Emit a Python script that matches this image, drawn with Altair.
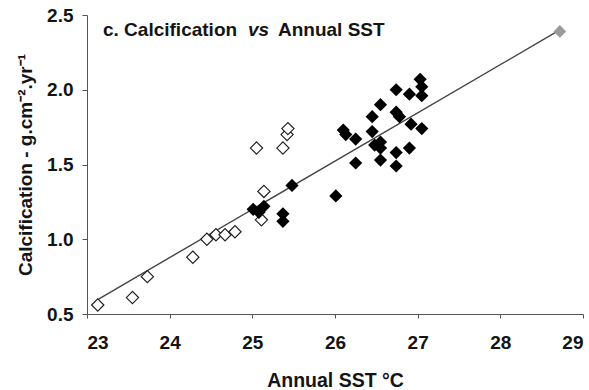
import altair as alt
import pandas as pd

# Annual SST (°C) and calcification (g.cm-2.yr-1)
open_sst = [23.13, 23.55, 23.73, 24.28, 24.45, 24.56, 24.67, 24.79, 25.11, 25.14,
            25.05, 25.37, 25.42, 25.43]
open_calc = [0.56, 0.61, 0.75, 0.88, 1.00, 1.03, 1.03, 1.05, 1.13, 1.32,
             1.61, 1.61, 1.70, 1.74]

filled_sst = [25.01, 25.08, 25.14, 25.37, 25.37, 25.48, 26.01, 26.10, 26.13, 26.25,
              26.25, 26.45, 26.45, 26.48, 26.55, 26.55, 26.55, 26.55, 26.74, 26.74,
              26.78, 26.74, 26.74, 26.90, 26.92, 26.90, 27.03, 27.05, 27.05, 27.05]
filled_calc = [1.20, 1.18, 1.22, 1.17, 1.12, 1.36, 1.29, 1.73, 1.70, 1.67,
               1.51, 1.82, 1.72, 1.63, 1.90, 1.65, 1.61, 1.53, 2.00, 1.85,
               1.82, 1.58, 1.49, 1.97, 1.77, 1.61, 2.07, 2.02, 1.96, 1.74]

grey_sst = [28.72]
grey_calc = [2.39]

# regression line end points
fit_sst = [23.14, 28.72]
fit_calc = [0.60, 2.40]

x_ticks = [23, 24, 25, 26, 27, 28, 29]
y_ticks = [0.5, 1.0, 1.5, 2.0, 2.5]

FONT = "Liberation Sans"
INK = "#141414"

x_scale = alt.Scale(domain=[23, 29], nice=False, zero=False)
y_scale = alt.Scale(domain=[0.5, 2.5], nice=False, zero=False)

x_axis = alt.Axis(values=x_ticks, format="d", grid=False, tickSize=4,
                  labelPadding=15, labelFontSize=19, labelFont=FONT,
                  labelFontWeight="bold", labelColor=INK,
                  domainColor="#555", tickColor="#555",
                  title="Annual SST °C", titleFont=FONT, titleFontSize=19.5,
                  titleFontWeight="bold", titleColor=INK,
                  titleY=72, titleBaseline="alphabetic")
y_axis = alt.Axis(values=y_ticks, format=".1f", grid=False, tickSize=5,
                  labelPadding=9, labelFontSize=19, labelFont=FONT,
                  labelFontWeight="bold", labelColor=INK,
                  domainColor="#555", tickColor="#555",
                  title="Calcification - g.cm⁻².yr⁻¹", titleFont=FONT,
                  titleFontSize=19, titleFontWeight="bold", titleColor=INK,
                  titleX=-62, titleBaseline="middle")

fit_df = pd.DataFrame({"sst": fit_sst, "calc": fit_calc})
open_df = pd.DataFrame({"sst": open_sst, "calc": open_calc})
filled_df = pd.DataFrame({"sst": filled_sst, "calc": filled_calc})
grey_df = pd.DataFrame({"sst": grey_sst, "calc": grey_calc})

fit = alt.Chart(fit_df).mark_line(color="#444", strokeWidth=1.4).encode(
    x=alt.X("sst:Q", scale=x_scale, axis=x_axis),
    y=alt.Y("calc:Q", scale=y_scale, axis=y_axis),
)

open_pts = alt.Chart(open_df).mark_point(
    shape="diamond", size=150, filled=False, fill="white", fillOpacity=1,
    stroke="#222", strokeWidth=1.2, opacity=1
).encode(x="sst:Q", y="calc:Q")

filled_pts = alt.Chart(filled_df).mark_point(
    shape="diamond", size=175, filled=True, color="black", opacity=1
).encode(x="sst:Q", y="calc:Q")

grey_pts = alt.Chart(grey_df).mark_point(
    shape="diamond", size=160, filled=True, color="#9a9a9a", opacity=1
).encode(x="sst:Q", y="calc:Q")

# panel heading, with the italic "vs"
head_df = pd.DataFrame({
    "txt": ["c. Calcification", "vs", "Annual SST"],
    "px": [16, 161, 191],
    "style": ["normal", "italic", "normal"],
})
heading = []
for i, row in head_df.iterrows():
    heading.append(
        alt.Chart(head_df.iloc[[i]]).mark_text(
            font=FONT, fontSize=19, fontWeight="bold", fontStyle=row["style"],
            align="left", baseline="alphabetic", color=INK
        ).encode(x=alt.value(int(row["px"])), y=alt.value(21), text="txt:N")
    )

chart = alt.layer(fit, open_pts, filled_pts, grey_pts, *heading).properties(
    width=496, height=299,
    autosize=alt.AutoSizeParams(type="none"),
    padding={"left": 87, "top": 15, "right": 6, "bottom": 76},
    background="white",
).configure_view(stroke=None)

chart.save("out.html", embed_options={"renderer": "svg", "actions": False})
